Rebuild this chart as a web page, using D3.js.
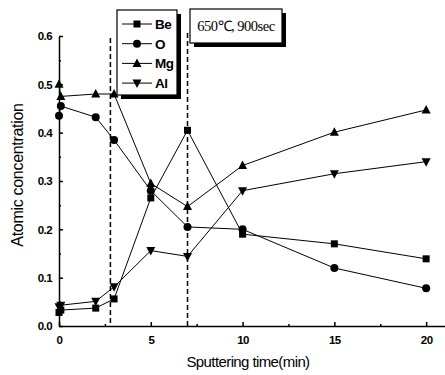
<!DOCTYPE html>
<html>
<head>
<meta charset="utf-8">
<script src="https://cdn.jsdelivr.net/npm/d3@7"></script>
<style>
body { margin: 0; background: #fff; }
</style>
</head>
<body>
<div id="chart"></div>
<script>
// sputtering time (min) -- two readings at t=0
var times = [0, 0.1, 2, 3, 5, 7, 10, 15, 20];
var be = [0.028, 0.033, 0.037, 0.056, 0.265, 0.405, 0.19, 0.17, 0.139];
var ox = [0.435, 0.455, 0.432, 0.385, 0.28, 0.205, 0.2, 0.12, 0.078];
var mg = [0.5, 0.475, 0.48, 0.48, 0.295, 0.247, 0.332, 0.401, 0.447];
var al = [0.04, 0.043, 0.051, 0.081, 0.156, 0.144, 0.28, 0.315, 0.34];
var seriesNames = ["Be", "O", "Mg", "Al"];
var markers = ["square", "circle", "up", "down"];
var dashTimes = [2.8, 7];
var xTicks = [0, 5, 10, 15, 20];
var yTicks = [0, 0.1, 0.2, 0.3, 0.4, 0.5, 0.6];

var W = 445, H = 375;
var svg = d3.select("#chart").append("svg")
  .attr("width", W).attr("height", H);

var x = d3.scaleLinear().domain([0, 21]).range([59, 444.5]);
var y = d3.scaleLinear().domain([0, 0.6]).range([326, 36]);

function drawMarker(g, type, cx, cy) {
  if (type == "square") {
    g.append("rect").attr("x", cx - 3.5).attr("y", cy - 3.5)
      .attr("width", 7).attr("height", 7).attr("fill", "#000");
  } else if (type == "circle") {
    g.append("circle").attr("cx", cx).attr("cy", cy).attr("r", 4).attr("fill", "#000");
  } else if (type == "up") {
    g.append("path").attr("d", "M" + cx + "," + (cy - 5) + "L" + (cx + 4.5) + "," + (cy + 3.5) + "L" + (cx - 4.5) + "," + (cy + 3.5) + "Z").attr("fill", "#000");
  } else {
    g.append("path").attr("d", "M" + cx + "," + (cy + 5) + "L" + (cx + 4.5) + "," + (cy - 3.5) + "L" + (cx - 4.5) + "," + (cy - 3.5) + "Z").attr("fill", "#000");
  }
}

// dashed vertical lines
dashTimes.forEach(function(t, i) {
  svg.append("line")
    .attr("x1", x(t)).attr("x2", x(t))
    .attr("y1", i == 0 ? 38 : 33).attr("y2", 326)
    .attr("stroke", "#000").attr("stroke-width", 1.5)
    .attr("stroke-dasharray", "5,3");
});

// series
var allSeries = [be, ox, mg, al];
allSeries.forEach(function(vals, k) {
  var pts = times.map(function(t, i) { return [t, vals[i]]; });
  svg.append("path")
    .datum(pts)
    .attr("fill", "none")
    .attr("stroke", "#000")
    .attr("stroke-width", 1)
    .attr("d", d3.line()
      .x(function(d) { return x(d[0]); })
      .y(function(d) { return y(d[1]); }));
  var g = svg.append("g");
  pts.forEach(function(d) { drawMarker(g, markers[k], x(d[0]), y(d[1])); });
});

// axes
var axX = svg.append("g").attr("transform", "translate(0,326)")
  .call(d3.axisBottom(x).tickValues(xTicks).tickSizeInner(-4).tickSizeOuter(0).tickPadding(10).tickFormat(d3.format("d")));
var axXm = svg.append("g").attr("transform", "translate(0,326)")
  .call(d3.axisBottom(x).tickValues([2.5, 7.5, 12.5, 17.5]).tickSizeInner(-2).tickSizeOuter(0).tickFormat(""));
axXm.select(".domain").remove();

var axY = svg.append("g").attr("transform", "translate(59,0)")
  .call(d3.axisLeft(y).tickValues(yTicks).tickSizeInner(-4).tickSizeOuter(0).tickPadding(7).tickFormat(d3.format(".1f")));
var axYm = svg.append("g").attr("transform", "translate(59,0)")
  .call(d3.axisLeft(y).tickValues([0.05, 0.15, 0.25, 0.35, 0.45, 0.55]).tickSizeInner(-2).tickSizeOuter(0).tickFormat(""));
axYm.select(".domain").remove();

[axX, axY, axXm, axYm].forEach(function(a) {
  a.selectAll("path,line").attr("stroke", "#000").attr("stroke-width", 1.5);
});
[axX, axY].forEach(function(a) {
  a.selectAll(".tick text")
    .attr("font-family", "Liberation Sans, Arial, sans-serif")
    .attr("font-size", 11.5).attr("font-weight", "bold").attr("fill", "#000")
    .attr("letter-spacing", "-0.6");
});

// axis titles
svg.append("text")
  .attr("transform", "translate(23,175) rotate(-90)")
  .attr("text-anchor", "middle")
  .attr("font-family", "Liberation Sans, Arial, sans-serif")
  .attr("font-size", 16).attr("letter-spacing", "-0.3")
  .text("Atomic concentration");
svg.append("text")
  .attr("x", 248).attr("y", 367)
  .attr("text-anchor", "middle")
  .attr("font-family", "Liberation Sans, Arial, sans-serif")
  .attr("font-size", 15).attr("letter-spacing", "-0.6")
  .text("Sputtering time(min)");

// legend
var lg = svg.append("g");
lg.append("rect").attr("x", 121).attr("y", 14).attr("width", 60).attr("height", 85).attr("fill", "#000");
lg.append("rect").attr("x", 117).attr("y", 10).attr("width", 60).attr("height", 85)
  .attr("fill", "#fff").attr("stroke", "#000").attr("stroke-width", 1.2);
seriesNames.forEach(function(name, i) {
  var ly = 24 + i * 19.7;
  lg.append("line").attr("x1", 122).attr("x2", 152).attr("y1", ly).attr("y2", ly)
    .attr("stroke", "#000").attr("stroke-width", 1);
  drawMarker(lg, markers[i], 137, ly);
  lg.append("text").attr("x", 155).attr("y", ly + 5)
    .attr("font-family", "Liberation Sans, Arial, sans-serif")
    .attr("font-size", 13.5).attr("font-weight", "bold").attr("letter-spacing", "-0.6")
    .text(name);
});

// annotation
var an = svg.append("g");
an.append("rect").attr("x", 194).attr("y", 13).attr("width", 92).attr("height", 34).attr("fill", "#000");
an.append("rect").attr("x", 190).attr("y", 9).attr("width", 92).attr("height", 34)
  .attr("fill", "#fff").attr("stroke", "#000").attr("stroke-width", 1.2);
an.append("text").attr("x", 236).attr("y", 31)
  .attr("text-anchor", "middle")
  .attr("font-family", "Liberation Serif, Times New Roman, serif")
  .attr("font-size", 14.5).attr("letter-spacing", "-0.5")
  .text("650℃, 900sec");
</script>
</body>
</html>
